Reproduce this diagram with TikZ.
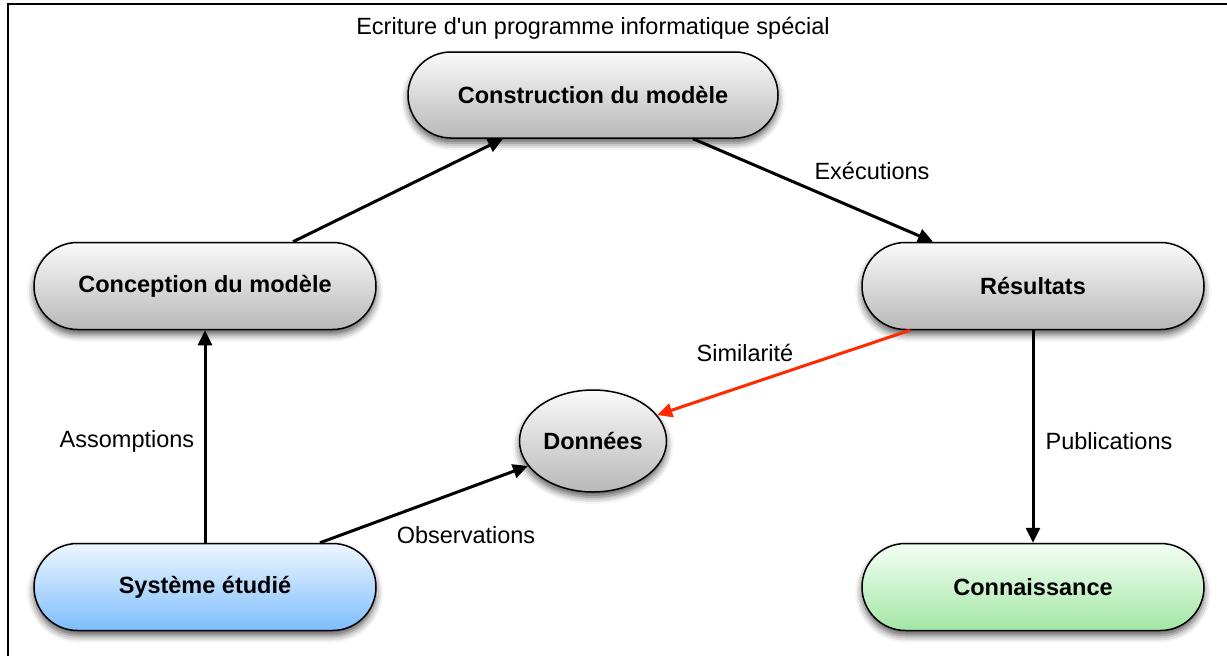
\documentclass[tikz,border=0pt]{standalone}
\usepackage{fontspec}
\setmainfont{Liberation Sans}
\usetikzlibrary{shapes.misc,shapes.geometric,arrows.meta,shadows.blur}
\definecolor{graytop}{HTML}{FAFAFA}
\definecolor{graybot}{HTML}{B8B8B8}
\definecolor{bluetop}{HTML}{EEF6FF}
\definecolor{bluebot}{HTML}{7DBDFC}
\definecolor{greentop}{HTML}{F4FFF4}
\definecolor{greenbot}{HTML}{A2E6A4}
\definecolor{simred}{HTML}{FF2A00}
\tikzset{
  boxbase/.style={draw=black, line width=1.5pt, inner sep=0pt,
    blur shadow={shadow xshift=0pt, shadow yshift=-5pt, shadow blur radius=7pt, shadow opacity=65},
    font=\fontsize{23.5}{28}\selectfont\bfseries},
  pill/.style={boxbase, rounded rectangle, minimum width=342pt, minimum height=87pt},
  graybox/.style={top color=graytop, bottom color=graybot},
  bluebox/.style={top color=bluetop, bottom color=bluebot},
  greenbox/.style={top color=greentop, bottom color=greenbot},
  oval/.style={boxbase, ellipse, minimum width=147pt, minimum height=102pt},
  conn/.style={line width=3pt, -{Triangle[length=15pt,width=14pt]}},
  lbl/.style={font=\fontsize{23.5}{28}\selectfont, inner sep=0pt}
}
\begin{document}
\begin{tikzpicture}[x=1pt,y=-1pt]
\useasboundingbox (0,0) rectangle (1227,656);
\draw[line width=1.5pt] (8,656) -- (8,4) -- (1227,4);

\node[pill, graybox, minimum width=370pt, minimum height=86pt] (cons) at (593,95) {Construction du modèle};
\node[pill, graybox] (conc) at (205,286) {Conception du modèle};
\node[pill, graybox] (res) at (1033,286) {Résultats};
\node[oval, graybox] (don) at (593,441) {Données};
\node[pill, bluebox] (sys) at (205,587) {Système étudié};
\node[pill, greenbox] (know) at (1033,587) {Connaissance};

\node[lbl] (titre) at (593,28) {Ecriture d\textquotesingle un programme informatique spécial};
\node[lbl] (lexec) at (872,171) {Exécutions};
\node[lbl] (lsim) at (745,353) {Similarité};
\node[lbl] (lass) at (127,441) {Assomptions};
\node[lbl] (lobs) at (466,535) {Observations};
\node[lbl] (lpub) at (1109,441) {Publications};

\draw[conn] ([xshift=88pt]conc.north) -- ([xshift=-90pt]cons.south);
\draw[conn] ([xshift=100pt]cons.south) -- ([xshift=-100pt]res.north);
\draw[conn] (res.south) -- (know.north);
\draw[conn, draw=simred, -{Triangle[length=15pt,width=14pt,fill=simred]}] ([xshift=-123pt]res.south) -- (don.22);
\draw[conn] (sys.north) -- (conc.south);
\draw[conn] ([xshift=115pt]sys.north) -- (don.201);
\end{tikzpicture}
\end{document}
